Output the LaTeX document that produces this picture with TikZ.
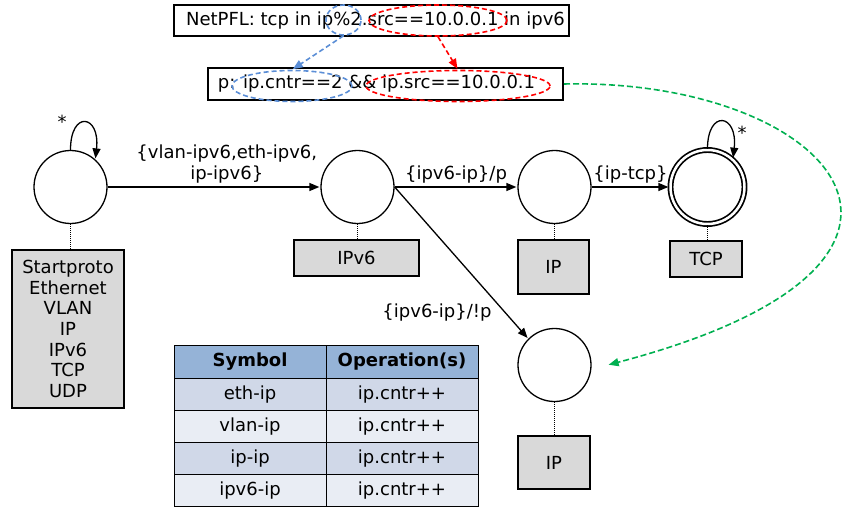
\documentclass[tikz,border=0pt]{standalone}
\usepackage{fontspec}
\setmainfont{DejaVu Sans}
\usepackage[dvipsnames, svgnames]{xcolor}
\usepackage{tikz}
\usetikzlibrary{automata,positioning}
\usetikzlibrary{arrows.meta}
\usetikzlibrary{calc}
\usetikzlibrary{shapes.geometric}

\definecolor{hdrblue}{HTML}{95B3D7}
\definecolor{rowdark}{HTML}{D0D8E8}
\definecolor{rowlight}{HTML}{E9EDF4}
\definecolor{selblue}{HTML}{5B8ED6}
\definecolor{selgreen}{HTML}{00B050}
\definecolor{protogray}{HTML}{D9D9D9}

\tikzset{
  every state/.style={draw, line width=1.3pt, minimum size=73pt, inner sep=0pt},
  protobox/.style={draw, line width=1.3pt, fill=protogray, align=center, inner sep=0pt},
  exprbox/.style={draw, line width=2pt, inner sep=0pt},
  selmark/.style={draw, dash pattern=on 5pt off 3pt, ellipse, line width=1.6pt, inner sep=0pt},
  cell/.style={draw, line width=0.9pt, minimum width=152pt, minimum height=32.2pt, inner sep=0pt},
}

\begin{document}
\begin{tikzpicture}[x=1pt,y=-1pt,shorten >=1pt,node distance=2cm,on grid,auto,
    >={Triangle[length=10pt,width=8pt]},font=\fontsize{18}{20.7}\selectfont]
   \useasboundingbox (0,0) rectangle (849,508);
   % query and predicate
   \node[exprbox, minimum width=395pt, minimum height=31pt] (q_top) at (371.5,20.5) {\hspace*{8pt}NetPFL: tcp in ip\%2.src==10.0.0.1 in ipv6};
   \node[exprbox, minimum width=355pt, minimum height=32pt] (q_pred) at (385.5,84) {p: ip.cntr==2 \&\& ip.src==10.0.0.1\hspace*{18pt}};
   \node[selmark, draw=selblue, minimum width=35pt, minimum height=30pt] (m_cnt) at (343.5,20) {};
   \node[selmark, draw=red, minimum width=138pt, minimum height=31pt] (m_src) at (438,20.5) {};
   \node[selmark, draw=selblue, minimum width=120pt, minimum height=31pt] (m_cntr) at (292,86) {};
   \node[selmark, draw=red, minimum width=184pt, minimum height=31pt] (m_ipsrc) at (458,86) {};
   \draw[->, dash pattern=on 5pt off 3pt, selblue, line width=1.6pt] (m_cnt.south) -- (m_cntr.north);
   \draw[->, dash pattern=on 5pt off 3pt, red, line width=1.6pt] (m_src.south) -- (m_ipsrc.north);

   % automaton
   \node[state] (s_0) at (70.5,187) {};
   \node[state] (s_1) [right=287pt of s_0] {};
   \node[state] (s_2) [right=197pt of s_1] {};
   \node[state,accepting,double distance=2.5pt,line width=1.7pt,minimum size=74pt] (s_3) [right=153pt of s_2] {};
   \node[state] (s_4) [below=178pt of s_2] {};

   \node[protobox, minimum width=112pt, minimum height=158pt] (p_0) at (68,329) {Startproto\\Ethernet\\VLAN\\IP\\IPv6\\TCP\\UDP};
   \node[protobox, minimum width=125pt, minimum height=36pt] (p_1) at (356.5,258) {IPv6};
   \node[protobox, minimum width=71pt, minimum height=54pt] (p_2) at (553.5,267) {IP};
   \node[protobox, minimum width=72pt, minimum height=36pt] (p_3) at (706,259) {TCP};
   \node[protobox, minimum width=72pt, minimum height=53pt] (p_4) at (554,462.5) {IP};
   \foreach \i in {0,...,4}
     \draw[dash pattern=on 1pt off 1pt, line width=1.1pt] (s_\i.south) -- (s_\i.south |- p_\i.north);

   \path[->,line width=1.3pt]
    (s_0) edge node[align=center, pos=.56] {\{vlan-ipv6,eth-ipv6,\\ip-ipv6\}} (s_1)
    (s_1) edge node {\{ipv6-ip\}/p} (s_2)
    (s_2) edge node {\{ip-tcp\}} (s_3)
    (s_1.east) edge node[pos=.83, anchor=east, xshift=-10pt] {\{ipv6-ip\}/!p} (s_4.north west);
   \draw[->,line width=1.3pt] (s_0.90) .. controls +(0,-40) and +(5,-45) .. (s_0.48);
   \node (l_0) at (62,122) {*};
   \draw[->,line width=1.3pt] (s_3.90) .. controls +(0,-40) and +(5,-45) .. (s_3.48);
   \node (l_3) at (742,133) {*};

   % green link to the split state
   \coordinate (g_end) at ($(s_4.east)+(16,0)$);
   \draw[->, dash pattern=on 6pt off 3pt, selgreen, line width=1.6pt] (q_pred.east) .. controls (830,78) and (1000,262) .. (g_end);

   % operations table
   \foreach \r/\sym/\op/\shade in {0/{\textbf{Symbol}}/{\textbf{Operation(s)}}/hdrblue,
       1/eth-ip/ip.cntr++/rowdark, 2/vlan-ip/ip.cntr++/rowlight,
       3/ip-ip/ip.cntr++/rowdark, 4/ipv6-ip/ip.cntr++/rowlight}
   {
     \node[cell, fill=\shade] (t_\r a) at (250,{362+32.2*\r}) {\sym};
     \node[cell, fill=\shade] (t_\r b) [right=152pt of t_\r a] {\op};
   }
\end{tikzpicture}
\end{document}
